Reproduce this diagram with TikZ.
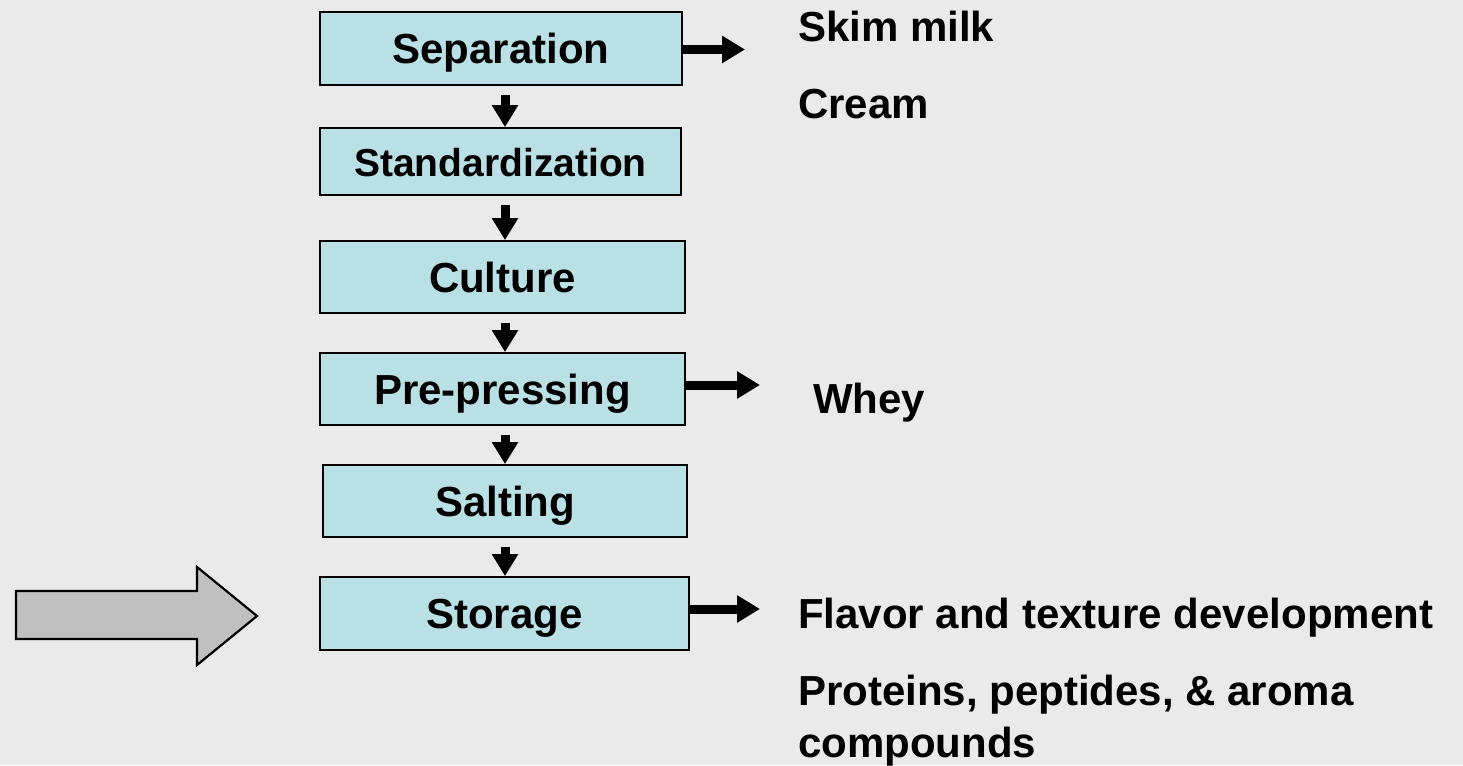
\documentclass[tikz,border=0pt]{standalone}
\usepackage{fontspec}
\setmainfont{Liberation Sans}
\usetikzlibrary{arrows.meta}
\definecolor{bgc}{RGB}{234,234,234}
\definecolor{boxc}{RGB}{185,224,228}
\definecolor{bigc}{RGB}{192,192,192}
\tikzset{
  stepbox/.style={draw=black, line width=1.8pt, fill=boxc, inner sep=0pt,
    text height=30pt, text depth=0pt,
    font=\bfseries\fontsize{42}{50}\selectfont, align=center},
  lab/.style={inner sep=0pt, anchor=base west, font=\bfseries\fontsize{42}{50}\selectfont},
  downflow/.style={draw=black, line width=9pt, -{Triangle[length=22pt,width=25pt]}, shorten <=9pt},
  sideflow/.style={draw=black, line width=9pt, -{Triangle[length=23pt,width=26pt]}},
}
\begin{document}
\begin{tikzpicture}[x=1pt,y=-1pt]
\fill[bgc] (0,0) rectangle (1463,765);
\useasboundingbox (0,0) rectangle (1463,765);

% big grey arrow
\draw[line width=2.2pt, fill=bigc, line join=miter]
  (16,591) -- (197,591) -- (197,567) -- (257,616) -- (197,665) -- (197,639) -- (16,639) -- cycle;

% boxes
\node[stepbox, minimum width=362pt, minimum height=73pt, text height=31pt] (sep) at (501,48.5) {Separation};
\node[stepbox, minimum width=361pt, minimum height=67pt, text height=30pt, font=\bfseries\fontsize{39}{46}\selectfont] (std) at (500.5,161.5) {Standardization};
\node[stepbox, minimum width=365pt, minimum height=72pt] (cul) at (502.5,277) {Culture};
\node[stepbox, minimum width=365pt, minimum height=72pt] (pre) at (502.5,389) {Pre-pressing};
\node[stepbox, minimum width=364pt, minimum height=72pt] (sal) at (505,501) {Salting};
\node[stepbox, minimum width=369pt, minimum height=73pt] (sto) at (504.5,613.5) {Storage};

% column for down arrows
\coordinate (col) at (505,0);
\draw[downflow] (sep.south -| col) -- (std.north -| col);
\draw[downflow] (std.south -| col) -- (cul.north -| col);
\draw[downflow] (cul.south -| col) -- (pre.north -| col);
\draw[downflow] (pre.south -| col) -- (sal.north -| col);
\draw[downflow] (sal.south -| col) -- (sto.north -| col);

% side arrows
\coordinate (t1) at (745,49.5);
\coordinate (t2) at (760,385);
\coordinate (t3) at (760,609);
\draw[sideflow] (sep.east |- t1) -- (t1);
\draw[sideflow] (pre.east |- t2) -- (t2);
\draw[sideflow] (sto.east |- t3) -- (t3);

% labels
\node[lab] (skim) at (798,42) {Skim milk};
\node[lab] (cream) at (798,118) {Cream};
\node[lab] (whey) at (813,413) {Whey};
\node[lab] (flav) at (798,628) {Flavor and texture development};
\node[lab] (prot) at (798,705) {Proteins, peptides, \& aroma};
\node[lab] (comp) at (798,757) {compounds};
\end{tikzpicture}
\end{document}
